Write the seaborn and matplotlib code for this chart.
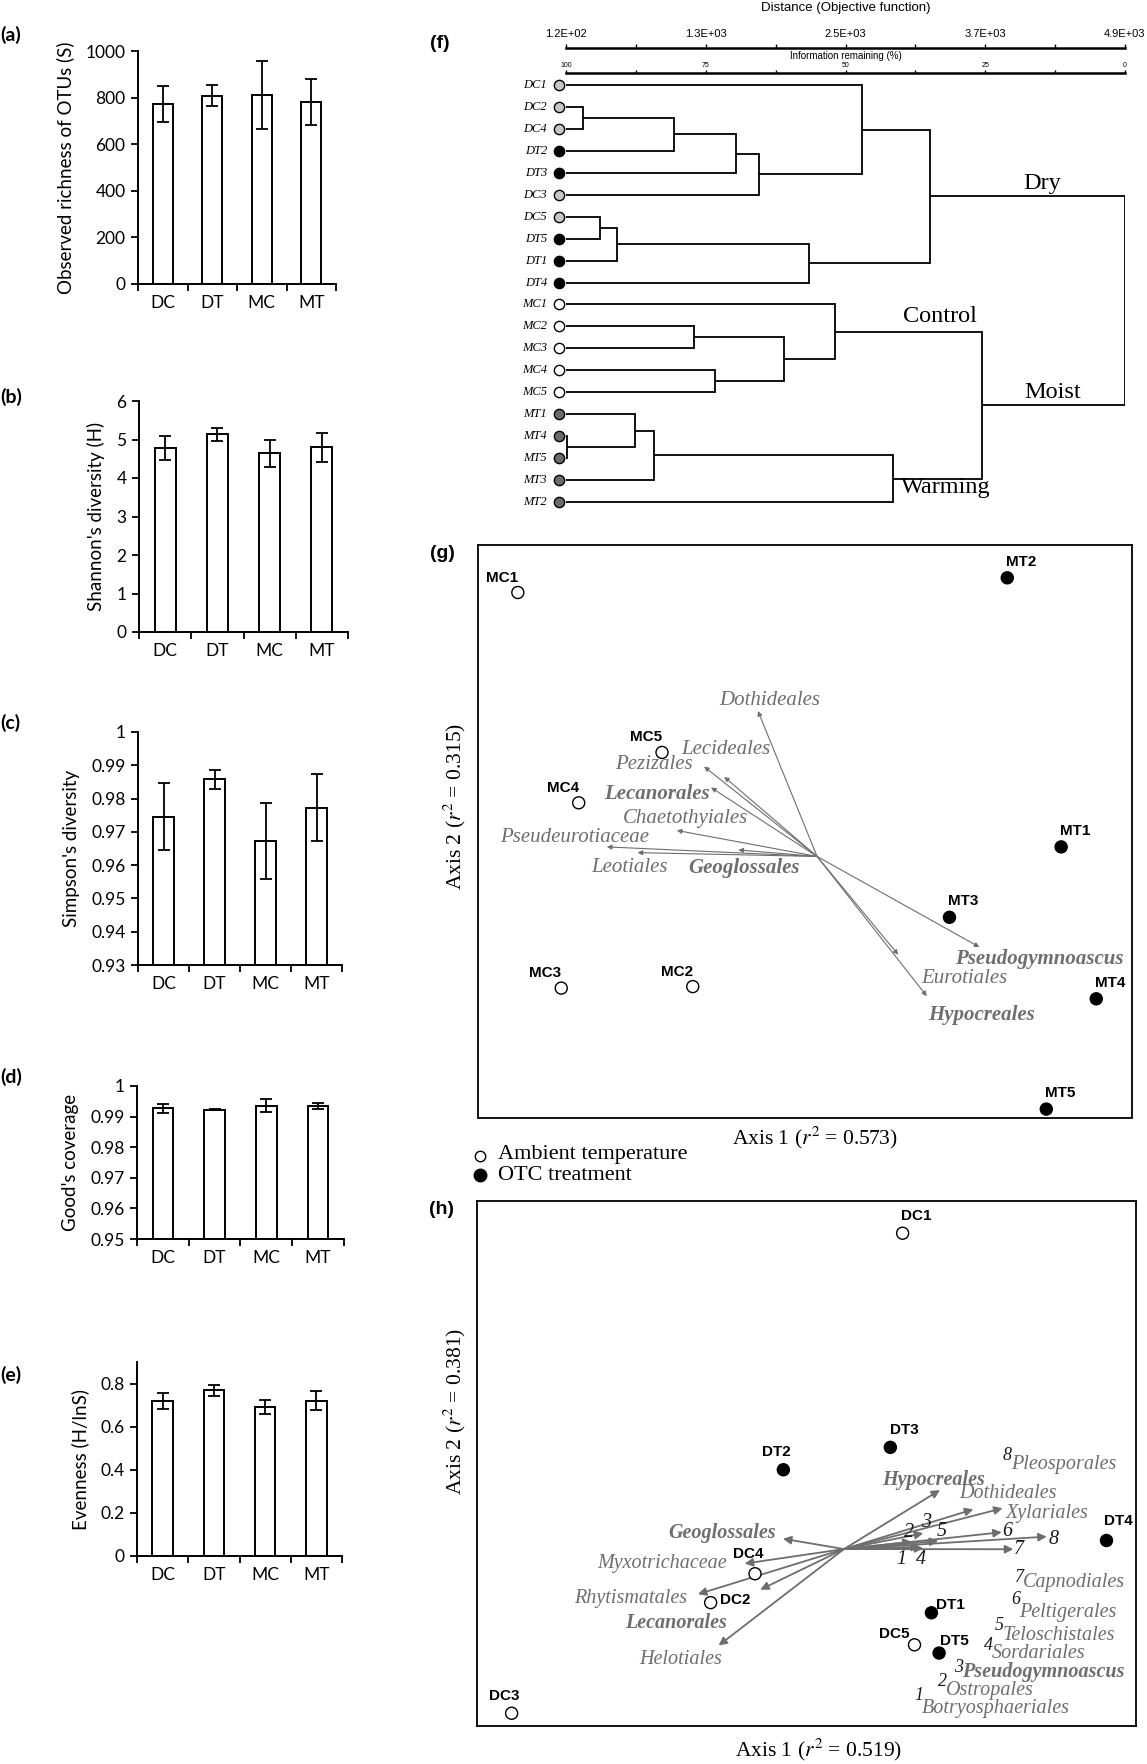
import numpy as np
import pandas as pd
import matplotlib
matplotlib.use("Agg")
import matplotlib.pyplot as plt
import matplotlib.transforms as mtransforms
from matplotlib.lines import Line2D
from matplotlib.ticker import FixedLocator
import seaborn as sns

sns.set_theme(style="ticks")
plt.rcParams["font.family"] = ["Lato", "DejaVu Sans"]
plt.rcParams["mathtext.fontset"] = "stix"
for k in ["text.color", "axes.labelcolor", "xtick.color", "ytick.color", "axes.edgecolor"]:
    plt.rcParams[k] = "black"

# ------------------------------------------------------------------ data
groups = ["DC", "DT", "MC", "MT"]
richness_mean = [771, 809, 813, 781]
richness_sd = [77, 43, 146, 100]
shannon_mean = [4.78, 5.14, 4.64, 4.80]
shannon_sd = [0.30, 0.17, 0.36, 0.38]
simpson_mean = [0.9745, 0.9858, 0.9672, 0.9773]
simpson_sd = [0.0101, 0.0028, 0.0115, 0.0101]
goods_mean = [0.9927, 0.9923, 0.9936, 0.9935]
goods_sd = [0.0014, 0.0002, 0.0022, 0.0009]
evenness_mean = [0.720, 0.768, 0.692, 0.720]
evenness_sd = [0.036, 0.026, 0.034, 0.044]

# dendrogram (information remaining, %)
leaf_names = ["DC1", "DC2", "DC4", "DT2", "DT3", "DC3", "DC5", "DT5", "DT1", "DT4",
              "MC1", "MC2", "MC3", "MC4", "MC5", "MT1", "MT4", "MT5", "MT3", "MT2"]
merges = [
    ("DC2", "DC4", 97.0),   # n0
    ("n0", "DT2", 80.6),    # n1
    ("n1", "DT3", 69.6),    # n2
    ("n2", "DC3", 65.5),    # n3
    ("DC1", "n3", 47.0),    # n4
    ("DC5", "DT5", 93.9),   # n5
    ("n5", "DT1", 90.8),    # n6
    ("n6", "DT4", 56.5),    # n7
    ("n4", "n7", 34.9),     # n8  Dry
    ("MC2", "MC3", 77.1),   # n9
    ("MC4", "MC5", 73.3),   # n10
    ("n9", "n10", 61.0),    # n11
    ("MC1", "n11", 51.9),   # n12 Control
    ("MT4", "MT5", 99.8),   # n13
    ("MT1", "n13", 87.7),   # n14
    ("n14", "MT3", 84.3),   # n15
    ("n15", "MT2", 41.5),   # n16 Warming
    ("n12", "n16", 25.6),   # n17 Moist
    ("n8", "n17", 0.0),     # n18
]
distance_labels = ["1.2E+02", "", "1.3E+03", "", "2.5E+03", "", "3.7E+03", "", "4.9E+03"]
info_labels = ["100", "", "75", "", "50", "", "25", "", "0"]

# NMS panel (g): moist plots
g_names = ["MC1", "MC2", "MC3", "MC4", "MC5", "MT1", "MT2", "MT3", "MT4", "MT5"]
g_x = [-1.315, -0.513, -1.116, -1.036, -0.654, 1.176, 0.929, 0.664, 1.337, 1.108]
g_y = [1.251, -0.814, -0.822, 0.149, 0.413, -0.082, 1.328, -0.451, -0.878, -1.456]
g_origin = (0.057, -0.132)
g_vec_names = ["Dothideales", "Lecideales", "Pezizales", "Lecanorales", "Chaetothyiales",
               "Pseudeurotiaceae", "Leotiales", "Geoglossales", "Pseudogymnoascus",
               "Eurotiales", "Hypocreales"]
g_vec_x = [-0.214, -0.369, -0.461, -0.429, -0.586, -0.907, -0.766, -0.304, 0.801, 0.429, 0.560]
g_vec_y = [0.630, 0.285, 0.339, 0.229, 0.004, -0.082, -0.112, -0.098, -0.607, -0.647, -0.864]
g_vec_bold = [False, False, False, True, False, False, False, True, True, False, True]
g_lab_x = [-0.160, -0.361, -0.692, -0.676, -0.545, -1.054, -0.803, -0.278, 1.076, 0.734, 0.811]
g_lab_y = [0.683, 0.430, 0.349, 0.195, 0.065, -0.032, -0.190, -0.190, -0.667, -0.774, -0.964]

# NMS panel (h): dry plots
h_names = ["DC1", "DC2", "DC3", "DC4", "DC5", "DT1", "DT2", "DT3", "DT4", "DT5"]
h_x = [0.439, -0.435, -1.341, -0.233, 0.493, 0.570, -0.104, 0.383, 1.367, 0.605]
h_y = [1.317, -0.793, -1.425, -0.628, -1.034, -0.851, -0.034, 0.094, -0.438, -1.081]
h_origin = (0.172, -0.487)
h_vec_names = ["Hypocreales", "Dothideales", "Xylariales", "3", "2", "5", "6", "8", "7", "1", "4",
               "Geoglossales", "Myxotrichaceae", "Rhytismatales", "Lecanorales", "Helotiales"]
h_vec_x = [0.609, 0.761, 0.894, 0.533, 0.480, 0.601, 0.890, 1.095, 0.943, 0.518, 0.533,
           -0.106, -0.280, -0.493, -0.209, -0.399]
h_vec_y = [-0.150, -0.260, -0.254, -0.397, -0.445, -0.441, -0.391, -0.416, -0.488, -0.474, -0.483,
           -0.428, -0.570, -0.745, -0.719, -1.038]
h_vec_bold = [True, False, False, False, False, False, False, False, False, False, False,
              True, False, False, True, False]
h_lab_x = [0.579, 0.918, 1.095, 0.545, 0.469, 0.617, 0.915, 1.125, 0.970, 0.435, 0.521,
           -0.385, -0.658, -0.798, -0.593, -0.573]
h_lab_y = [-0.091, -0.172, -0.282, -0.338, -0.394, -0.388, -0.388, -0.435, -0.492, -0.545, -0.545,
           -0.396, -0.570, -0.772, -0.910, -1.117]
h_key_nums = ["8", "7", "6", "5", "4", "3", "2", "1"]
h_key_names = ["Pleosporales", "Capnodiales", "Peltigerales", "Teloschistales", "Sordariales",
               "Pseudogymnoascus", "Ostropales", "Botryosphaeriales"]

# ------------------------------------------------------------------ layout helpers
W, H = 1147, 1764
fig = plt.figure(figsize=(W / 100, H / 100), dpi=100)
fig.patch.set_facecolor("white")


def rect(l, t, r, b):
    return [l / W, 1 - b / H, (r - l) / W, (b - t) / H]


def fx(x):
    return x / W


def fy(y):
    return 1 - y / H


SERIF = "Liberation Serif"
SANS = "Liberation Sans"
GREY = "#6e6e6e"

# ------------------------------------------------------------------ bar panels (a)-(e)
bar_specs = [
    ("(a)", richness_mean, richness_sd, "Observed richness of OTUs (S)", (0, 1000),
     np.arange(0, 1001, 200), (138, 51, 336, 284), 35),
    ("(b)", shannon_mean, shannon_sd, "Shannon's diversity (H)", (0, 6),
     np.arange(0, 7, 1), (139, 401, 348, 632), 397),
    ("(c)", simpson_mean, simpson_sd, "Simpson's diversity", (0.93, 1.0),
     np.linspace(0.93, 1.0, 8), (138, 732, 342, 965), 723),
    ("(d)", goods_mean, goods_sd, "Good's coverage", (0.95, 1.0),
     np.linspace(0.95, 1.0, 6), (137, 1086, 344, 1239), 1077),
    ("(e)", evenness_mean, evenness_sd, "Evenness (H/lnS)", (0, 0.9),
     np.arange(0, 0.81, 0.2), (137, 1362, 342, 1556), 1375),
]
for plabel, means, sds, ylab, ylim, yt, box, ply in bar_specs:
    ax = fig.add_axes(rect(*box))
    df = pd.DataFrame({"group": groups, "value": means})
    sns.barplot(data=df, x="group", y="value", ax=ax, color="white", saturation=1,
                edgecolor="black", linewidth=1.4, width=0.4, errorbar=None)
    ax.errorbar(np.arange(len(groups)), means, yerr=sds, fmt="none", ecolor="black",
                elinewidth=1.3, capsize=4, capthick=1.3, zorder=5)
    ax.set_xlim(-0.5, 3.5)
    ax.set_ylim(*ylim)
    ax.set_yticks(yt)
    ax.set_yticklabels([f"{v:g}" for v in yt])
    ax.xaxis.set_minor_locator(FixedLocator([-0.5, 0.5, 1.5, 2.5, 3.5]))
    ax.tick_params(axis="x", which="major", length=0, pad=8, labelsize=12.5)
    ax.tick_params(axis="x", which="minor", length=5, width=1.3, direction="out")
    ax.tick_params(axis="y", length=5, width=1.3, direction="out", pad=4, labelsize=12.5)
    for s in ["top", "right"]:
        ax.spines[s].set_visible(False)
    for s in ["left", "bottom"]:
        ax.spines[s].set_linewidth(1.4)
    ax.set_xlabel("")
    ax.set_ylabel(ylab, fontsize=13.5, labelpad=8)
    fig.text(fx(0), fy(ply), plabel, fontsize=14, fontweight="bold", ha="left", va="center")

# ------------------------------------------------------------------ dendrogram (f)
leaf_top, leaf_step = 85.0, (502.0 - 85.0) / 19
axd = fig.add_axes(rect(566, leaf_top - leaf_step / 2, 1125, 502 + leaf_step / 2))
axd.set_xlim(100, 0)
axd.set_ylim(19.5, -0.5)
axd.axis("off")
pos = {name: (100.0, float(i)) for i, name in enumerate(leaf_names)}
for k, (a, b, h) in enumerate(merges):
    xa, ya = pos[a]
    xb, yb = pos[b]
    axd.plot([xa, h], [ya, ya], color="black", lw=1.3, solid_capstyle="butt")
    axd.plot([xb, h], [yb, yb], color="black", lw=1.3, solid_capstyle="butt")
    axd.plot([h, h], [ya, yb], color="black", lw=1.3, solid_capstyle="projecting")
    pos[f"n{k}"] = (h, (ya + yb) / 2)

leaf_fill = {"DC": "#c6c6c6", "DT": "black", "MC": "white", "MT": "#6b6b6b"}
mk_trans = mtransforms.offset_copy(axd.transData, fig=fig, x=-7, y=0, units="dots")
lab_trans = mtransforms.offset_copy(axd.transData, fig=fig, x=-19, y=0, units="dots")
for i, name in enumerate(leaf_names):
    axd.scatter([100], [i], s=55, facecolor=leaf_fill[name[:2]], edgecolor="black",
                linewidth=1.0, transform=mk_trans, clip_on=False, zorder=5)
    axd.text(100, i, name, transform=lab_trans, ha="right", va="center",
             family=SERIF, style="italic", fontsize=9)

for txt, x, y in [("Dry", 1023, 183), ("Control", 903, 317), ("Moist", 1024, 393),
                  ("Warming", 901, 487)]:
    fig.text(fx(x), fy(y), txt, family=SERIF, fontsize=17.5, ha="left", va="center")


def scale_axis(ytop, labels, fs, pad, length):
    a = fig.add_axes(rect(566, ytop, 1125, ytop + 1))
    a.set_xlim(100, 0)
    a.set_ylim(0, 1)
    a.patch.set_alpha(0)
    for s in ["left", "right", "bottom"]:
        a.spines[s].set_visible(False)
    a.spines["top"].set_linewidth(1.8)
    a.set_yticks([])
    a.xaxis.set_ticks_position("top")
    a.set_xticks(np.linspace(100, 0, 9))
    a.set_xticklabels(labels, fontsize=fs, family=SANS)
    a.tick_params(axis="x", direction="out", length=length, width=1, pad=pad)
    return a


scale_axis(47.7, distance_labels, 8, 3, 3)
scale_axis(72.7, info_labels, 5, 0.5, 2)
fig.text(fx(846), fy(8), "Distance (Objective function)", family=SANS, fontsize=9.5,
         ha="center", va="center")
fig.text(fx(846), fy(56), "Information remaining (%)", family=SANS, fontsize=7,
         ha="center", va="center")
fig.text(fx(430), fy(43), "(f)", family=SANS, fontsize=14, fontweight="bold",
         ha="left", va="center")


# ------------------------------------------------------------------ ordination panels
def ordination_axes(box):
    a = fig.add_axes(rect(*box))
    a.set_xlim(-1.5, 1.5)
    a.set_ylim(-1.5, 1.5)
    a.set_xticks([])
    a.set_yticks([])
    for s in a.spines.values():
        s.set_linewidth(1.3)
        s.set_color("black")
    return a


def draw_points(a, names, xs, ys, offsets):
    df = pd.DataFrame({"x": xs, "y": ys,
                       "treat": ["OTC" if n[1] == "T" else "Ambient" for n in names]})
    sns.scatterplot(data=df, x="x", y="y", hue="treat", ax=a, s=75,
                    palette={"Ambient": "white", "OTC": "black"},
                    edgecolor="black", linewidth=1.0, legend=False, zorder=5)
    a.set_xlabel("")
    a.set_ylabel("")
    for n, x, y in zip(names, xs, ys):
        dx, dy = offsets[n]
        a.annotate(n, (x, y), xytext=(dx, dy), textcoords="offset pixels",
                   ha="center", va="center", family=SANS, fontweight="bold", fontsize=11)


# panel g
axg = ordination_axes((477.5, 545, 1131.8, 1117.5))
g_offsets = {n: ((-16, 15) if n.startswith("MC") else (14, 16)) for n in g_names}
for n, vx, vy, lx, ly, bold in zip(g_vec_names, g_vec_x, g_vec_y, g_lab_x, g_lab_y, g_vec_bold):
    axg.annotate("", xy=(vx, vy), xytext=g_origin,
                 arrowprops=dict(arrowstyle="-|>", color=GREY, lw=0.8, mutation_scale=7,
                                 shrinkA=0, shrinkB=0))
    axg.text(lx, ly, n, ha="center", va="center", family=SERIF, style="italic",
             fontweight="bold" if bold else "normal", fontsize=15, color=GREY)
draw_points(axg, g_names, g_x, g_y, g_offsets)
fig.text(fx(442), fy(553), "(g)", family=SANS, fontsize=14, fontweight="bold",
         ha="center", va="center")
fig.text(fx(455), fy(806), r"Axis 2 ($r^2$ = 0.315)", family=SERIF, fontsize=15.5,
         rotation=90, ha="center", va="center")
fig.text(fx(815), fy(1138), r"Axis 1 ($r^2$ = 0.573)", family=SERIF, fontsize=15.5,
         ha="center", va="center")

# legend
fig.add_artist(Line2D([fx(480)], [fy(1156)], marker="o", ls="", mfc="white", mec="black",
                      ms=7.5, mew=1.0, transform=fig.transFigure))
fig.add_artist(Line2D([fx(480)], [fy(1175)], marker="o", ls="", mfc="black", mec="black",
                      ms=9, mew=1.0, transform=fig.transFigure))
fig.text(fx(498), fy(1155), "Ambient temperature", family=SERIF, fontsize=16,
         ha="left", va="center")
fig.text(fx(498), fy(1175), "OTC treatment", family=SERIF, fontsize=16,
         ha="left", va="center")

# panel h
axh = ordination_axes((476.7, 1201.2, 1135.7, 1726.4))
h_offsets = {"DC1": (14, 17), "DT3": (14, 17), "DT2": (-7, 18), "DT4": (12, 19),
             "DC4": (-7, 20), "DC2": (25, 3), "DT1": (19, 8), "DC5": (-20, 11),
             "DT5": (15, 12), "DC3": (-7, 17)}
for n, vx, vy, lx, ly, bold in zip(h_vec_names, h_vec_x, h_vec_y, h_lab_x, h_lab_y, h_vec_bold):
    axh.annotate("", xy=(vx, vy), xytext=h_origin,
                 arrowprops=dict(arrowstyle="-|>", color=GREY, lw=1.3, mutation_scale=12,
                                 shrinkA=0, shrinkB=0))
    is_num = n.isdigit()
    axh.text(lx, ly, n, ha="center", va="center", family=SERIF, style="italic",
             fontweight="bold" if bold else "normal", fontsize=14.5,
             color="#1a1a1a" if is_num else GREY)
draw_points(axh, h_names, h_x, h_y, h_offsets)

key_name_px = [(1011, 1464), (1023, 1583), (1019, 1612), (1003, 1635), (992, 1654),
               (962, 1672), (946, 1690), (922, 1709)]
key_num_y = [1456, 1578, 1600, 1626, 1645, 1668, 1682, 1696]
for num, name, (nx, ny), ky in zip(h_key_nums, h_key_names, key_name_px, key_num_y):
    fig.text(fx(nx + 1), fy(ky), num, family=SERIF, style="italic", fontsize=13,
             color="#1a1a1a", ha="right", va="center")
    fig.text(fx(nx), fy(ny), name, family=SERIF, style="italic", fontsize=14.5,
             fontweight="bold" if name == "Pseudogymnoascus" else "normal",
             color=GREY, ha="left", va="center")

fig.text(fx(442), fy(1209), "(h)", family=SANS, fontsize=14, fontweight="bold",
         ha="center", va="center")
fig.text(fx(455), fy(1411), r"Axis 2 ($r^2$ = 0.381)", family=SERIF, fontsize=15.5,
         rotation=90, ha="center", va="center")
fig.text(fx(819), fy(1750), r"Axis 1 ($r^2$ = 0.519)", family=SERIF, fontsize=15.5,
         ha="center", va="center")

fig.savefig("out.png", dpi=100)
